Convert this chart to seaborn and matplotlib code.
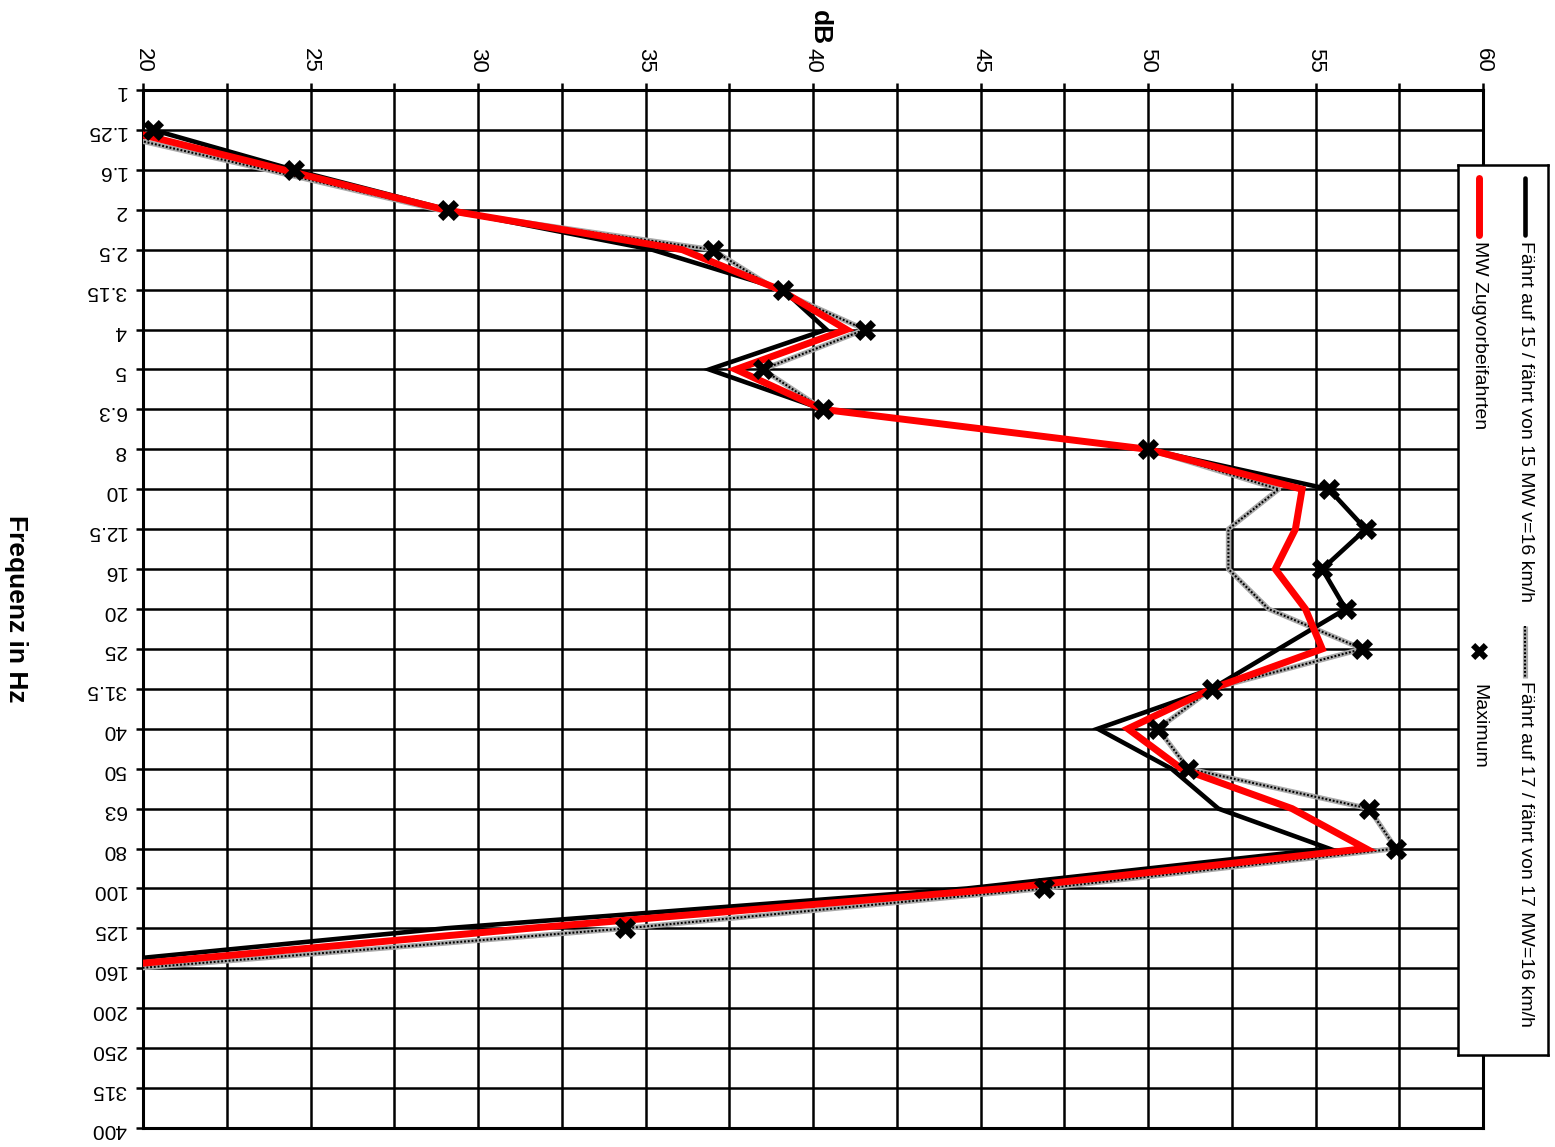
import numpy as np
import pandas as pd
import seaborn as sns
import matplotlib.pyplot as plt
from matplotlib.ticker import MultipleLocator, FixedLocator

# Terzband-Frequenzen (Kategorien der Achse)
freq_labels = ['1', '1.25', '1.6', '2', '2.5', '3.15', '4', '5', '6.3', '8',
               '10', '12.5', '16', '20', '25', '31.5', '40', '50', '63', '80',
               '100', '125', '160', '200', '250', '315', '400']

# Werte in dB fuer 1.25 Hz ... 160 Hz
faehrt_15 = [20.3, 24.5, 29.1, 35.2, 39.1, 40.4, 36.9, 40.3, 50.0, 55.4, 56.5,
             55.2, 55.9, 53.9, 51.9, 48.5, 50.7, 52.1, 55.4, 44.6, 29.0, 16.8]
faehrt_17 = [18.5, 23.7, 28.8, 37.0, 38.9, 41.55, 38.5, 40.3, 50.0, 53.9, 52.4,
             52.4, 53.6, 56.4, 51.9, 50.3, 51.2, 56.6, 57.4, 46.9, 34.4, 19.8]
mw_zug = [19.4, 24.2, 29.0, 36.1, 39.0, 41.0, 37.7, 40.3, 50.0, 54.6, 54.4,
          53.8, 54.7, 55.2, 51.9, 49.4, 51.0, 54.3, 56.5, 45.7, 31.5, 18.3]
maximum = [20.3, 24.5, 29.1, 37.0, 39.1, 41.55, 38.5, 40.3, 50.0, 55.4, 56.5,
           55.2, 55.9, 56.4, 51.9, 50.3, 51.2, 56.6, 57.4, 46.9, 34.4, np.nan]

label_15 = 'Fährt auf 15 / fährt von 15 MW v=16 km/h'
label_17 = 'Fährt auf 17 / fährt von 17 MW=16 km/h'
label_mw = 'MW Zugvorbeifahrten'
label_max = 'Maximum'

df = pd.DataFrame({
    'pos': np.arange(1, len(faehrt_15) + 1),
    'f15': faehrt_15,
    'f17': faehrt_17,
    'mw': mw_zug,
    'max': maximum,
})

sns.set_theme(style='white')
plt.rcParams['font.family'] = ['Liberation Sans', 'DejaVu Sans']
plt.rcParams.update({'text.color': 'black', 'axes.labelcolor': 'black',
                     'xtick.color': 'black', 'ytick.color': 'black'})

W, H = 1555, 1147
fig = plt.figure(figsize=(W / 100, H / 100), dpi=100)
ax = fig.add_axes([143 / W, 1 - 1128 / H, 1340 / W, 1038 / H])

# line styles
gray_base = dict(color='#a9a9a9', lw=3.7, solid_capstyle='butt')
gray_dots = dict(color='black', lw=1.5, linestyle=(0, (0.9, 0.9)))
black_kw = dict(color='black', lw=3.3, solid_joinstyle='miter')
red_kw = dict(color='#ff0000', lw=5.0, solid_joinstyle='miter')

sns.lineplot(data=df, x='f17', y='pos', orient='y', sort=False, ax=ax, zorder=3, **gray_base)
sns.lineplot(data=df, x='f17', y='pos', orient='y', sort=False, ax=ax, zorder=3.1, **gray_dots)
sns.lineplot(data=df, x='f15', y='pos', orient='y', sort=False, ax=ax, zorder=4, **black_kw)
sns.lineplot(data=df, x='mw', y='pos', orient='y', sort=False, ax=ax, zorder=5, **red_kw)
sns.scatterplot(data=df.dropna(), x='max', y='pos', marker='X', s=230, color='black',
                linewidth=0, ax=ax, zorder=6)

# axes, grid
ax.set_xlim(20, 60)
ax.set_ylim(len(freq_labels) - 1, 0)
ax.xaxis.tick_top()
ax.xaxis.set_major_locator(MultipleLocator(5))
ax.xaxis.set_minor_locator(MultipleLocator(2.5))
ax.yaxis.set_major_locator(FixedLocator(range(len(freq_labels))))
ax.set_yticklabels(freq_labels)
ax.grid(True, which='both', axis='x', color='black', lw=1.8)
ax.grid(True, which='major', axis='y', color='black', lw=1.8)
ax.set_axisbelow(True)
for sp in ax.spines.values():
    sp.set_color('black')
    sp.set_linewidth(2.2)

ax.tick_params(axis='x', which='both', top=True, bottom=False, direction='out',
               length=5, width=1.8, color='black', labelsize=16, labelrotation=-90, pad=7.5)
ax.tick_params(axis='y', which='major', left=True, direction='out',
               length=5, width=1.8, color='black', labelsize=15, labelrotation=180, pad=7)

ax.set_xlabel('dB', fontsize=19, fontweight='bold', rotation=-90)
ax.xaxis.set_label_position('top')
ax.xaxis.label.set_rotation_mode('anchor')
ax.xaxis.label.set_ha('right')
ax.xaxis.label.set_va('center')
ax.xaxis.set_label_coords(0.505, (1128 - 45) / 1038)
ax.set_ylabel('Frequenz in Hz', fontsize=19, fontweight='bold', rotation=-90, va='top')
ax.yaxis.set_label_coords((28 - 143) / 1340, 0.5)

# legend box (rotated like the chart)
lax = fig.add_axes([1458 / W, 1 - 1055 / H, 90 / W, 890 / H])
lax.set_xlim(0, 1)
lax.set_ylim(1, 0)
lax.set_xticks([])
lax.set_yticks([])
lax.set_facecolor('white')
for sp in lax.spines.values():
    sp.set_color('black')
    sp.set_linewidth(1.8)

col_a, col_b = 0.745, 0.235
s0, s1, t0 = 0.015, 0.079, 0.085
g0, g1, g_t = 0.518, 0.576, 0.580

lax.plot([col_a, col_a], [s0, s1], solid_capstyle='round', **black_kw)
lax.plot([col_b, col_b], [s0, s1], solid_capstyle='round', **red_kw)
lax.plot([col_a, col_a], [g0, g1], **gray_base)
lax.plot([col_a, col_a], [g0, g1], **gray_dots)
lax.scatter([col_b], [0.546], marker='X', s=150, color='black', linewidth=0)

txt = dict(fontsize=14, rotation=-90, rotation_mode='anchor', ha='left', va='center')
lax.text(col_a, t0, label_15, **txt)
lax.text(col_b, t0, label_mw, **txt)
lax.text(col_a, g_t, label_17, **txt)
lax.text(col_b, g_t + 0.003, label_max, **txt)

fig.savefig('out.png', dpi=100, facecolor='white')
